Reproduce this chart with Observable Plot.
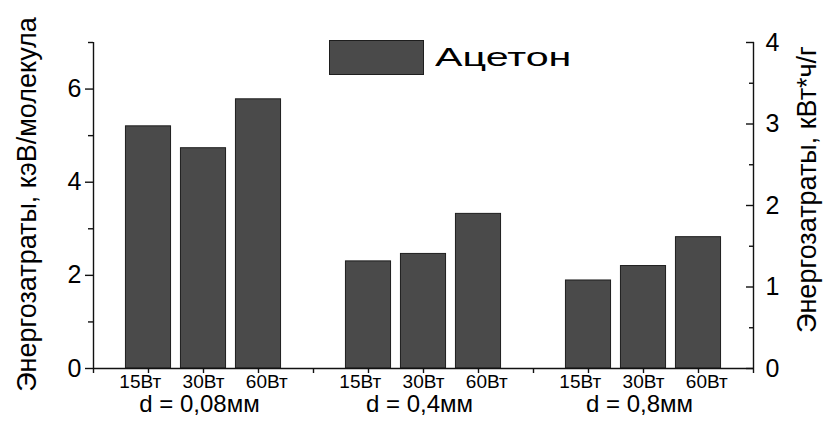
<!DOCTYPE html>
<html>
<head>
<meta charset="utf-8">
<script src="https://cdn.jsdelivr.net/npm/d3@7"></script>
<script src="https://cdn.jsdelivr.net/npm/@observablehq/plot@0.6"></script>
<style>
  html, body { margin: 0; padding: 0; background: #fff; }
  #wrap { position: relative; width: 829px; height: 423px; font-family: "Liberation Sans", Arial, sans-serif; }
  #legend { position: absolute; left: 329px; top: 40px; display: flex; align-items: center; }
  #legend .sw { width: 95px; height: 35px; background: #4a4a4a; border: 1px solid #1e1e1e; box-sizing: border-box; }
  #legend .lb { margin-left: 11px; font-size: 25px; line-height: 1; color: #000; display: inline-block;
    transform: scaleX(1.65); transform-origin: left center; }
</style>
</head>
<body>
<div id="wrap"></div>
<script>
// ---- data ----
const groups = ["d = 0,08мм", "d = 0,4мм", "d = 0,8мм"];
const powers = ["15Вт", "30Вт", "60Вт"];
const values = [
  [5.20, 4.73, 5.78],
  [2.30, 2.46, 3.32],
  [1.89, 2.20, 2.82]
];
const leftTicks = [0, 2, 4, 6];
const leftMinor = [1, 3, 5, 7];
const rightTicks = [0, 1, 2, 3, 4];
const rightMinor = [0.5, 1.5, 2.5, 3.5];
const leftTitle = "Энергозатраты, кэВ/молекула";
const rightTitle = "Энергозатраты, кВт*ч/г";
const legendLabel = "Ацетон";

// ---- layout derived from the data ----
const slotsPerGroup = powers.length + 1;
const rows = [];
groups.forEach((g, gi) => powers.forEach((p, pi) => rows.push({
  group: g, power: p, pi, value: values[gi][pi], pos: gi * slotsPerGroup + pi + 1
})));
const groupRows = groups.map((g, gi) => ({group: g, pos: gi * slotsPerGroup + (powers.length + 1) / 2}));
const xMax = groups.length * slotsPerGroup;
const yMax = 7, rMax = 4, k = yMax / rMax;
const half = 0.41;
const labelSpread = 0.15;
const font = "Liberation Sans, Arial, sans-serif";
const ax = {stroke: "#111", strokeWidth: 1.4};

const chart = Plot.plot({
  width: 829,
  height: 423,
  marginLeft: 93,
  marginRight: 76,
  marginTop: 42,
  marginBottom: 55,
  style: {fontFamily: font, color: "#000", background: "#fff"},
  x: {domain: [0, xMax], axis: null},
  y: {domain: [0, yMax], axis: null},
  marks: [
    Plot.rectY(rows, {x1: d => d.pos - half, x2: d => d.pos + half, y1: 0, y2: "value",
      fill: "#4a4a4a", stroke: "#1e1e1e", strokeWidth: 1}),
    // left axis
    Plot.ruleX([0], ax),
    Plot.axisY({anchor: "left", ticks: leftTicks, tickSize: 8, text: null, label: null, ...ax}),
    Plot.axisY({anchor: "left", ticks: leftMinor, tickSize: 5, text: null, label: null, ...ax}),
    Plot.text(leftTicks, {y: d => d, text: d => String(d), frameAnchor: "left", textAnchor: "end",
      dx: -12, fontSize: 25, fill: "#000", ariaLabel: "ylab"}),
    // right axis (ticks point inward)
    Plot.ruleX([xMax], ax),
    Plot.axisY({anchor: "right", ticks: rightTicks.map(v => v * k), tickSize: 8, dx: -8, text: null, label: null, ...ax}),
    Plot.axisY({anchor: "right", ticks: rightMinor.map(v => v * k), tickSize: 5, dx: -5, text: null, label: null, ...ax}),
    Plot.text(rightTicks, {y: d => d * k, text: d => String(d), frameAnchor: "right", textAnchor: "start",
      dx: 12, fontSize: 25, fill: "#000", ariaLabel: "rlab"}),
    // x axis
    Plot.ruleY([0], ax),
    Plot.axisX({anchor: "bottom", ticks: d3.range(0, xMax + 1), tickSize: 5, text: null, label: null, ...ax}),
    Plot.text(rows, {x: d => d.pos + (d.pi - 1) * labelSpread, text: "power", frameAnchor: "bottom",
      dy: 19, fontSize: 19, fill: "#000", ariaLabel: "xlab"}),
    Plot.text(groupRows, {x: "pos", text: "group", frameAnchor: "bottom", dx: -4, dy: 43,
      fontSize: 24, fill: "#000", ariaLabel: "glab"}),
    // axis titles
    Plot.text([leftTitle], {frameAnchor: "left", textAnchor: "middle", rotate: -90, dx: -66, dy: -1,
      fontSize: 27, fill: "#000", ariaLabel: "ltitle"}),
    Plot.text([rightTitle], {frameAnchor: "right", textAnchor: "middle", rotate: -90, dx: 54, dy: -16,
      fontSize: 27, fill: "#000", ariaLabel: "rtitle"})
  ]
});

const wrap = document.getElementById("wrap");
wrap.appendChild(chart);

// horizontal stretch of the reference's lettering
function stretch(label, factor) {
  chart.querySelectorAll(`g[aria-label="${label}"] text`).forEach(t => {
    const w = t.getComputedTextLength();
    t.setAttribute("textLength", (w * factor).toFixed(1));
    t.setAttribute("lengthAdjust", "spacingAndGlyphs");
  });
}
// size a rotated title so its length matches the reference, and widen its glyphs
function fitTitle(label, len, thick) {
  chart.querySelectorAll(`g[aria-label="${label}"] text`).forEach(t => {
    const fs = parseFloat(getComputedStyle(t).fontSize) || 27;
    const w = t.getComputedTextLength();
    if (w > 0) t.style.fontSize = (fs * len / w).toFixed(2) + "px";
    const tr = t.getAttribute("transform") || "";
    t.setAttribute("transform", tr + ` scale(1,${thick})`);
  });
}
stretch("ylab", 1.4);
stretch("rlab", 1.4);
stretch("xlab", 1.33);
stretch("glab", 1.25);
fitTitle("ltitle", 382, 1.22);
fitTitle("rtitle", 322, 1.15);

const legend = document.createElement("div");
legend.id = "legend";
legend.innerHTML = `<div class="sw"></div><span class="lb"></span>`;
legend.querySelector(".lb").textContent = legendLabel;
wrap.appendChild(legend);
</script>
</body>
</html>
